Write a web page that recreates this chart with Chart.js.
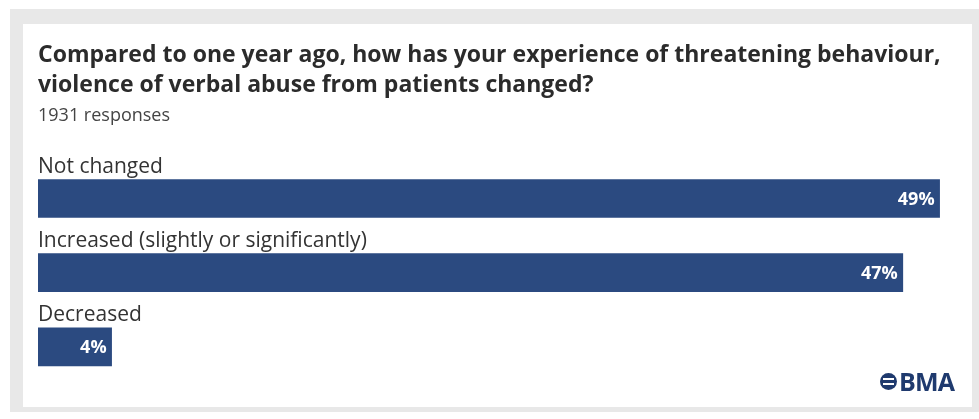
<!DOCTYPE html>
<html>
<head>
<meta charset="utf-8">
<script src="https://cdn.jsdelivr.net/npm/chart.js@4.4.1/dist/chart.umd.min.js"></script>
<style>
  html, body { margin: 0; padding: 0; background: #ffffff; }
  #frame { position: absolute; left: 10px; top: 9px; width: 969px; height: 403px; background: #e8e8e8; }
  #panel { position: absolute; left: 23px; top: 24px; width: 949px; height: 383px; background: #ffffff; }
  #chartBox { position: absolute; left: 0; top: 0; width: 949px; height: 383px; }
  #logo { position: absolute; left: 857px; top: 340px; font-family: "Open Sans", sans-serif; font-weight: 700; font-size: 25px; color: #1f3a6e; display: flex; align-items: center; letter-spacing: -0.8px; }
  #logo .mark { width: 17px; height: 17px; border-radius: 50%; background: #1f3a6e; margin-right: 2px; position: relative; }
  #logo .mark::before { content: ""; position: absolute; left: 3px; right: 3px; top: 5px; height: 2px; background: #fff; box-shadow: 0 5px 0 #fff; }
</style>
</head>
<body>
<div id="frame"></div>
<div id="panel">
  <div id="chartBox"><canvas id="c" width="949" height="383"></canvas></div>
  <div id="logo"><span class="mark"></span>BMA</div>
</div>
<script>
const titleLines = ["Compared to one year ago, how has your experience of threatening behaviour,", "violence of verbal abuse from patients changed?"];
const subtitleText = "1931 responses";
const categories = ["Not changed", "Increased (slightly or significantly)", "Decreased"];
const values = [49, 47, 4];
const valueLabels = ["49%", "47%", "4%"];

const barColor = "#2b4a80";
const textColor = "#333333";

const labelPlugin = {
  id: "barLabels",
  afterDatasetsDraw(chart) {
    const ctx = chart.ctx;
    const meta = chart.getDatasetMeta(0);
    ctx.save();
    meta.data.forEach((bar, i) => {
      const top = bar.y - bar.height / 2;
      ctx.font = "21px 'Open Sans', sans-serif";
      ctx.fillStyle = textColor;
      ctx.textAlign = "left";
      ctx.textBaseline = "alphabetic";
      ctx.fillText(categories[i], chart.chartArea.left, top - 7);
      ctx.font = "bold 18px 'Open Sans', sans-serif";
      ctx.fillStyle = "#ffffff";
      ctx.textAlign = "right";
      ctx.textBaseline = "middle";
      ctx.fillText(valueLabels[i], bar.x - 5, bar.y + 1);
    });
    ctx.restore();
  }
};

new Chart(document.getElementById("c"), {
  type: "bar",
  data: {
    labels: categories,
    datasets: [{
      data: values,
      backgroundColor: barColor,
      borderWidth: 0,
      barThickness: 38
    }]
  },
  options: {
    indexAxis: "y",
    responsive: false,
    animation: false,
    layout: { padding: { left: 15, right: 14, top: 0, bottom: 23 } },
    scales: {
      x: { display: false, min: 0, max: 50 },
      y: { display: false }
    },
    plugins: {
      legend: { display: false },
      tooltip: { enabled: false },
      title: {
        display: true,
        text: titleLines,
        align: "start",
        color: "#2b2b2b",
        font: { family: "'Open Sans', sans-serif", size: 23, weight: "bold", lineHeight: 1.3 },
        padding: { top: 17, bottom: 0 }
      },
      subtitle: {
        display: true,
        text: subtitleText,
        align: "start",
        color: "#444444",
        font: { family: "'Open Sans', sans-serif", size: 18, lineHeight: 1.2 },
        padding: { top: 4, bottom: 35 }
      }
    }
  },
  plugins: [labelPlugin]
});
</script>
</body>
</html>
